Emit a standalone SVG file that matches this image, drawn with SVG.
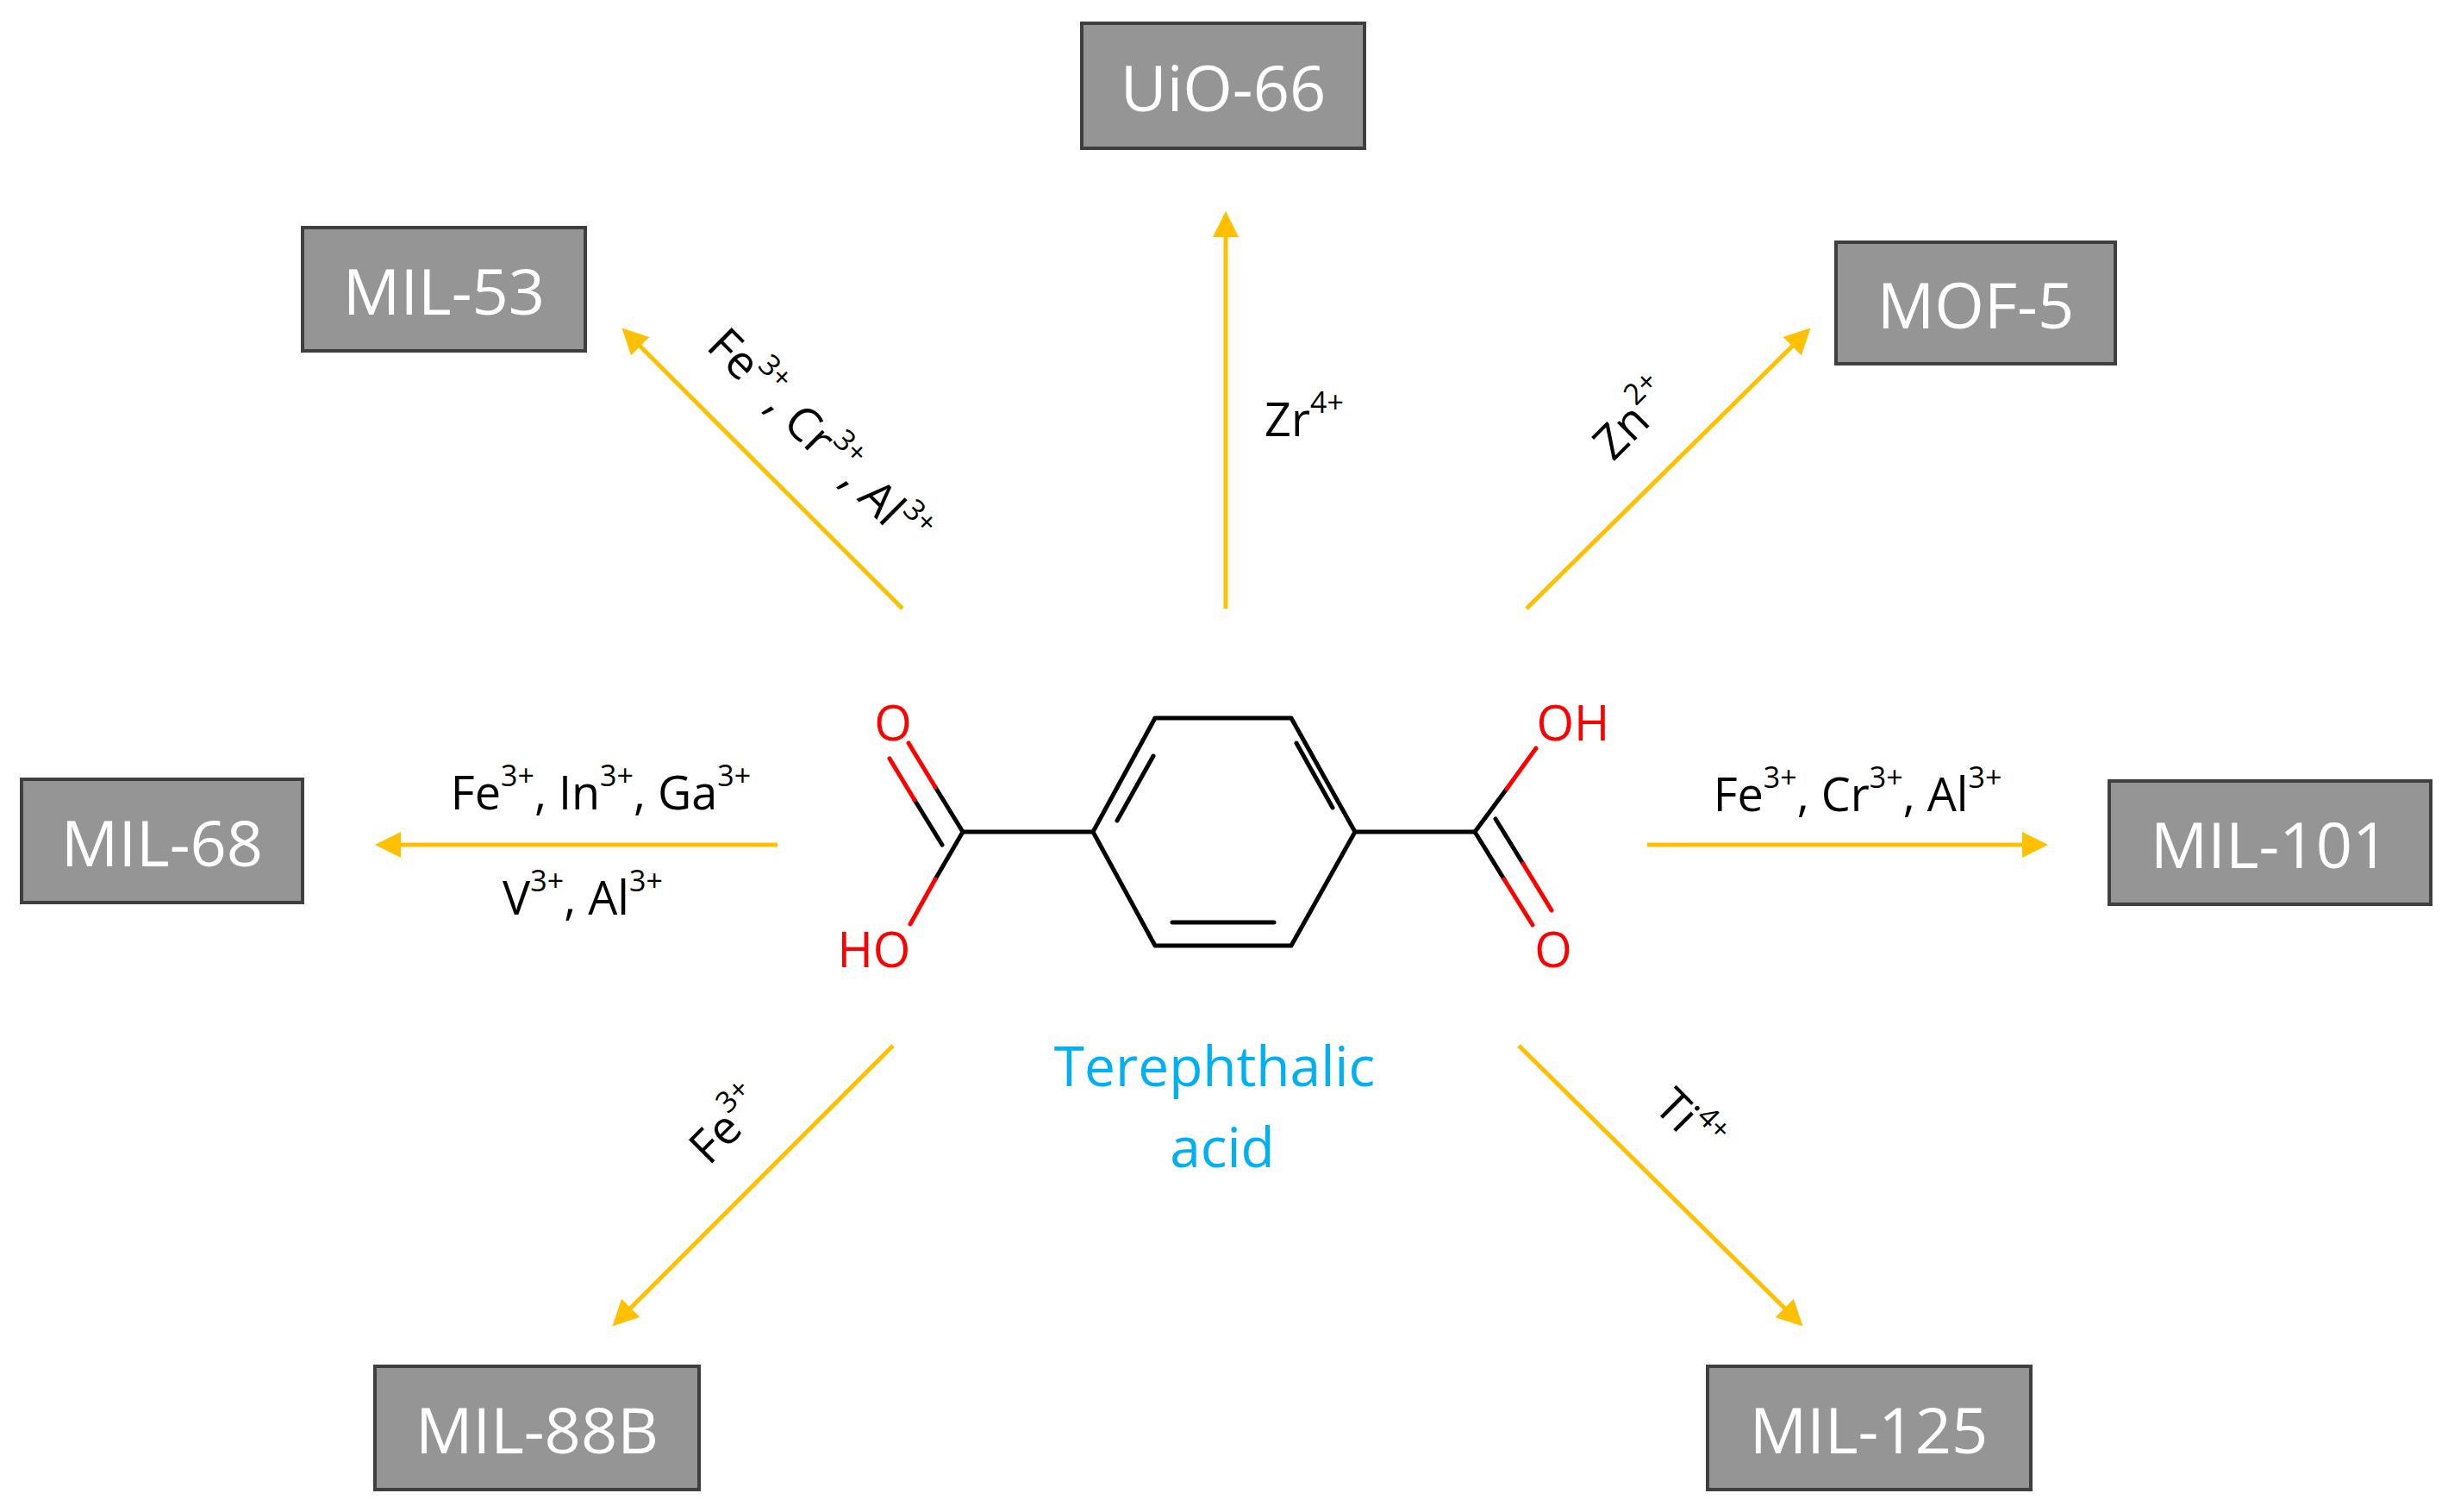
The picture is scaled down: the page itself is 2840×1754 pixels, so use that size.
<svg xmlns="http://www.w3.org/2000/svg" width="2840" height="1754" viewBox="0 0 2840 1754">
<defs>
<marker id="ah" markerWidth="6" markerHeight="6" refX="5" refY="3" orient="auto" markerUnits="strokeWidth"><path d="M0,0 L6,3 L0,6 z" fill="#FFC000"/></marker>
<style>
.box rect{fill:#959595;stroke:#3f3f3f;stroke-width:4}
.box text{fill:#fff;font-family:"Open Sans","Liberation Sans",sans-serif;font-size:74px;text-anchor:middle;dominant-baseline:central}
.arr{stroke:#FFC000;stroke-width:5;fill:none;marker-end:url(#ah)}
.lab{font-family:"Open Sans","Liberation Sans",sans-serif;font-size:54px;fill:#000;text-anchor:middle;dominant-baseline:central}
.b{stroke:#000;stroke-width:5;fill:none;stroke-linecap:round}
.r{stroke:#f00;stroke-width:5;fill:none;stroke-linecap:round}
.at{font-family:"Open Sans","Liberation Sans",sans-serif;font-size:56px;fill:#f00;text-anchor:middle;dominant-baseline:central}
</style>
</defs>
<rect width="2840" height="1754" fill="#fff"/>
<g id="UiO-66" class="box"><rect x="1255" y="27" width="328" height="145"/><text x="1419" y="100">UiO-66</text></g>
<g id="MIL-53" class="box"><rect x="351" y="264" width="328" height="143"/><text x="515" y="336">MIL-53</text></g>
<g id="MOF-5" class="box"><rect x="2130" y="281" width="324" height="141"/><text x="2292" y="352">MOF-5</text></g>
<g id="MIL-68" class="box"><rect x="25" y="904" width="326" height="143"/><text x="188" y="976">MIL-68</text></g>
<g id="MIL-101" class="box"><rect x="2447" y="906" width="373" height="143"/><text x="2633" y="978">MIL-101</text></g>
<g id="MIL-88B" class="box"><rect x="435" y="1585" width="376" height="143"/><text x="623" y="1657">MIL-88B</text></g>
<g id="MIL-125" class="box"><rect x="1981" y="1585" width="375" height="143"/><text x="2168" y="1657">MIL-125</text></g>
<g id="connectors">
<line class="arr" x1="1422" y1="706" x2="1422" y2="250"/>
<line class="arr" x1="1047" y1="706" x2="725" y2="384"/>
<line class="arr" x1="1771" y1="706" x2="2097" y2="384"/>
<line class="arr" x1="902" y1="980" x2="440" y2="980"/>
<line class="arr" x1="1911" y1="980" x2="2371" y2="980"/>
<line class="arr" x1="1036" y1="1213" x2="714" y2="1535"/>
<line class="arr" x1="1762" y1="1213" x2="2088" y2="1535"/>
</g>
<g id="labels" class="lab">
<text x="1513" y="485">Zr<tspan font-size="34" dy="-19">4+</tspan></text>
<text transform="translate(951,507) rotate(45)">Fe<tspan font-size="34" dy="-19">3+</tspan><tspan dy="19">, Cr</tspan><tspan font-size="34" dy="-19">3+</tspan><tspan dy="19">, Al</tspan><tspan font-size="34" dy="-19">3+</tspan></text>
<text transform="translate(1893,485) rotate(-45)">Zn<tspan font-size="34" dy="-19">2+</tspan></text>
<text x="697" y="918">Fe<tspan font-size="34" dy="-19">3+</tspan><tspan dy="19">, In</tspan><tspan font-size="34" dy="-19">3+</tspan><tspan dy="19">, Ga</tspan><tspan font-size="34" dy="-19">3+</tspan></text>
<text x="676" y="1040">V<tspan font-size="34" dy="-19">3+</tspan><tspan dy="19">, Al</tspan><tspan font-size="34" dy="-19">3+</tspan></text>
<text x="2155" y="920">Fe<tspan font-size="34" dy="-19">3+</tspan><tspan dy="19">, Cr</tspan><tspan font-size="34" dy="-19">3+</tspan><tspan dy="19">, Al</tspan><tspan font-size="34" dy="-19">3+</tspan></text>
<text transform="translate(842,1304) rotate(-45)">Fe<tspan font-size="34" dy="-19">3+</tspan></text>
<text transform="translate(1961,1300) rotate(45)">Ti<tspan font-size="34" dy="-19">4+</tspan></text>
</g>
<g id="molecule">
<polygon class="b" points="1340,833 1498,833 1572,965 1498,1097 1340,1097 1268,965" stroke-linejoin="round"/>
<line class="b" x1="1504" y1="862" x2="1546" y2="937"/>
<line class="b" x1="1360" y1="1070" x2="1478" y2="1070"/>
<line class="b" x1="1296" y1="952" x2="1338" y2="877"/>
<line class="b" x1="1572" y1="965" x2="1711" y2="965"/>
<line class="b" x1="1711" y1="965" x2="1748" y2="915"/>
<line class="r" x1="1748" y1="915" x2="1782" y2="868"/>
<line class="b" x1="1711" y1="965" x2="1745" y2="1020"/>
<line class="r" x1="1745" y1="1020" x2="1778" y2="1073"/>
<line class="b" x1="1735" y1="950" x2="1767" y2="1002"/>
<line class="r" x1="1767" y1="1002" x2="1800" y2="1056"/>
<text class="at" x="1825" y="837">OH</text>
<text class="at" x="1802" y="1100">O</text>
<line class="b" x1="1268" y1="965" x2="1117" y2="965"/>
<line class="b" x1="1117" y1="965" x2="1085" y2="913"/>
<line class="r" x1="1085" y1="913" x2="1054" y2="862"/>
<line class="b" x1="1093" y1="980" x2="1061" y2="928"/>
<line class="r" x1="1061" y1="928" x2="1032" y2="880"/>
<line class="b" x1="1117" y1="965" x2="1085" y2="1020"/>
<line class="r" x1="1085" y1="1020" x2="1056" y2="1072"/>
<text class="at" x="1036" y="837">O</text>
<text class="at" x="1014" y="1100">HO</text>
<text x="1409" y="1235" font-family="'Open Sans','Liberation Sans',sans-serif" font-size="64" fill="#00B0F0" text-anchor="middle" dominant-baseline="central">Terephthalic</text>
<text x="1418" y="1329" font-family="'Open Sans','Liberation Sans',sans-serif" font-size="64" fill="#00B0F0" text-anchor="middle" dominant-baseline="central">acid</text>
</g>
</svg>
